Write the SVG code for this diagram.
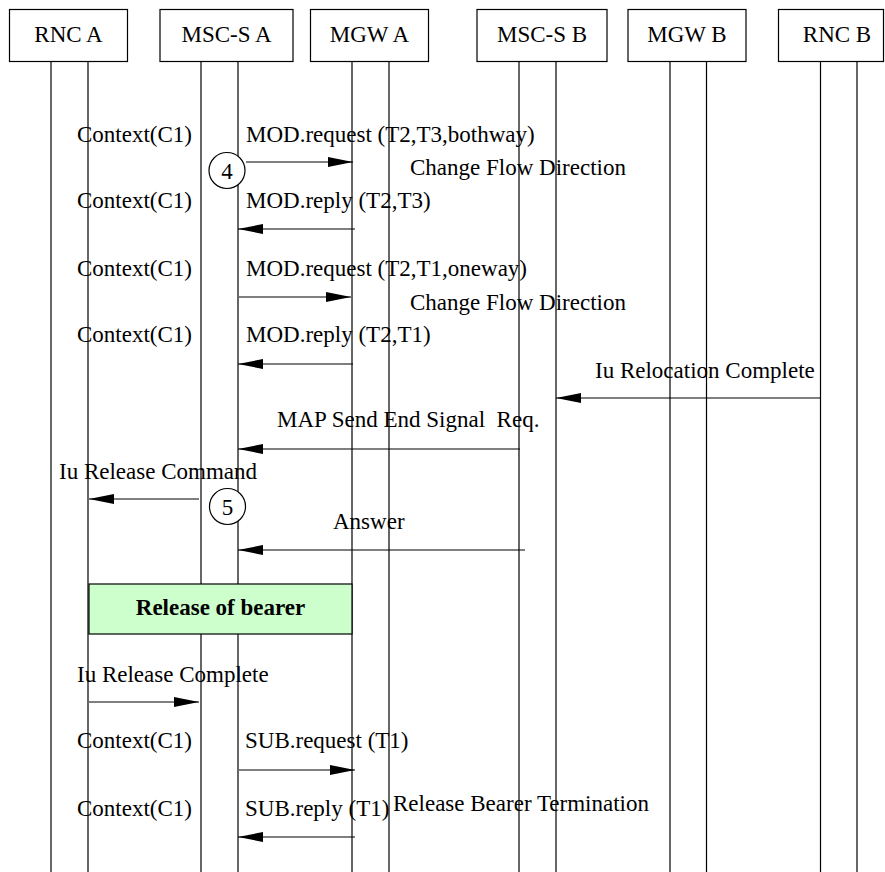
<svg xmlns="http://www.w3.org/2000/svg" width="885" height="872" viewBox="0 0 885 872">
<style>
text{font-family:"Liberation Serif","Times New Roman",serif;font-size:23px;fill:#000}
.box{fill:#fff;stroke:#000;stroke-width:1.2}
.life{stroke:#000;stroke-width:1.2;fill:none}
.msg{stroke:#000;stroke-width:1.2;fill:none;marker-end:url(#ah)}
.mid{text-anchor:middle}
.circ{fill:#fff;stroke:#000;stroke-width:1.2}
</style>
<defs>
<marker id="ah" viewBox="0 0 25 10" refX="25" refY="5" markerWidth="25" markerHeight="10" markerUnits="userSpaceOnUse" orient="auto">
<path d="M0,0 L25,5 L0,10 z" fill="#000"/>
</marker>
</defs>
<rect width="885" height="872" fill="#fff"/>
<g id="rnc-a">
<rect class="box" x="9.5" y="9.5" width="118" height="52"/>
<text class="mid" x="68.5" y="42">RNC A</text>
<line class="life" x1="51" y1="61.5" x2="51" y2="872"/>
<line class="life" x1="88" y1="61.5" x2="88" y2="872"/>
</g>
<g id="msc-s-a">
<rect class="box" x="160" y="9.5" width="133" height="52"/>
<text class="mid" x="226.5" y="42">MSC-S A</text>
<line class="life" x1="201" y1="61.5" x2="201" y2="872"/>
<line class="life" x1="238" y1="61.5" x2="238" y2="872"/>
</g>
<g id="mgw-a">
<rect class="box" x="310.5" y="9.5" width="118" height="52"/>
<text class="mid" x="369.5" y="42">MGW A</text>
<line class="life" x1="352" y1="61.5" x2="352" y2="872"/>
<line class="life" x1="389" y1="61.5" x2="389" y2="872"/>
</g>
<g id="msc-s-b">
<rect class="box" x="477" y="9.5" width="130" height="52"/>
<text class="mid" x="542" y="42">MSC-S B</text>
<line class="life" x1="519" y1="61.5" x2="519" y2="872"/>
<line class="life" x1="556" y1="61.5" x2="556" y2="872"/>
</g>
<g id="mgw-b">
<rect class="box" x="628" y="9.5" width="118" height="52"/>
<text class="mid" x="687" y="42">MGW B</text>
<line class="life" x1="670" y1="61.5" x2="670" y2="872"/>
<line class="life" x1="706.5" y1="61.5" x2="706.5" y2="872"/>
</g>
<g id="rnc-b">
<rect class="box" x="778.5" y="9.5" width="105" height="52"/>
<text class="mid" x="837" y="42">RNC B</text>
<line class="life" x1="820.5" y1="61.5" x2="820.5" y2="872"/>
<line class="life" x1="857" y1="61.5" x2="857" y2="872"/>
</g>
<g id="release-of-bearer">
<rect x="89" y="584" width="263" height="50" fill="#ccffcc" stroke="#000" stroke-width="1.2"/>
<text class="mid" x="220.5" y="615" font-weight="bold">Release of bearer</text>
</g>
<g id="connectors">
<line class="msg" x1="246" y1="162" x2="353" y2="162"/>
<line class="msg" x1="355" y1="229" x2="238" y2="229"/>
<line class="msg" x1="239" y1="297" x2="351" y2="297"/>
<line class="msg" x1="353" y1="364" x2="238" y2="364"/>
<line class="msg" x1="820" y1="398" x2="556" y2="398"/>
<line class="msg" x1="520" y1="449" x2="238" y2="449"/>
<line class="msg" x1="199" y1="499" x2="89" y2="499"/>
<line class="msg" x1="525" y1="550" x2="238" y2="550"/>
<line class="msg" x1="89" y1="702" x2="199" y2="702"/>
<line class="msg" x1="239" y1="770" x2="355" y2="770"/>
<line class="msg" x1="355" y1="837" x2="238" y2="837"/>
</g>
<g id="step-4">
<circle class="circ" cx="227" cy="170.5" r="18"/>
<text class="mid" x="227" y="178.5">4</text>
</g>
<g id="step-5">
<circle class="circ" cx="227.5" cy="506.5" r="18"/>
<text class="mid" x="227.5" y="514.5">5</text>
</g>
<g id="labels">
<text x="77" y="142">Context(C1)</text>
<text x="246" y="142">MOD.request (T2,T3,bothway)</text>
<text x="410" y="175">Change Flow Direction</text>
<text x="77" y="208">Context(C1)</text>
<text x="246" y="208">MOD.reply (T2,T3)</text>
<text x="77" y="276">Context(C1)</text>
<text x="246" y="276">MOD.request (T2,T1,oneway)</text>
<text x="410" y="310">Change Flow Direction</text>
<text x="77" y="342">Context(C1)</text>
<text x="246" y="342">MOD.reply (T2,T1)</text>
<text x="595" y="378">Iu Relocation Complete</text>
<text x="277" y="427" xml:space="preserve">MAP Send End Signal  Req.</text>
<text x="59" y="479">Iu Release Command</text>
<text x="333" y="529">Answer</text>
<text x="77" y="682">Iu Release Complete</text>
<text x="77" y="748">Context(C1)</text>
<text x="245" y="748">SUB.request (T1)</text>
<text x="77" y="816">Context(C1)</text>
<text x="245" y="816">SUB.reply (T1)</text>
<text x="393" y="811">Release Bearer Termination</text>
</g>
</svg>
